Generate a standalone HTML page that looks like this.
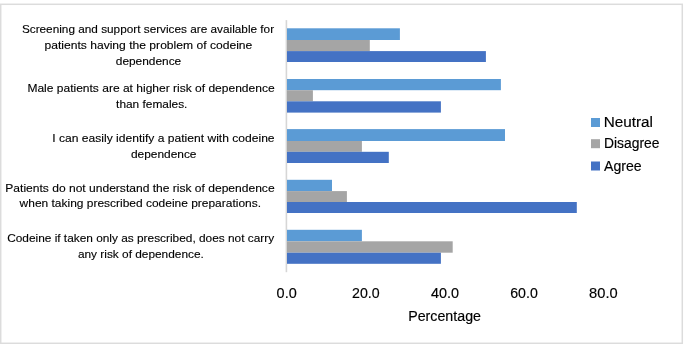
<!DOCTYPE html>
<html lang="en">
<head>
<meta charset="utf-8">
<title>Chart</title>
<style>
html,body{margin:0;padding:0;background:#fff;}
body{width:685px;height:344px;overflow:hidden;}
svg{display:block;}
text{font-family:"Liberation Sans",sans-serif;fill:#000;}
.yl{font-size:11.5px;stroke:#000;stroke-width:0.12px;}
.ax{font-size:13.8px;stroke:#000;stroke-width:0.15px;}
.lg{font-size:13.8px;stroke:#000;stroke-width:0.15px;}
</style>
</head>
<body>
<svg width="685" height="344" viewBox="0 0 685 344">
<rect x="0" y="0" width="685" height="344" fill="#ffffff"/>
<rect x="0.7" y="4.3" width="681.6" height="339" fill="#ffffff" stroke="#dcdcdc" stroke-width="1.5"/>
<line x1="286.4" y1="20.1" x2="286.4" y2="272.2" stroke="#d6d6d6" stroke-width="1.6"/>
<rect x="287.0" y="28.3" width="112.9" height="11.7" fill="#5b9bd5"/>
<rect x="287.0" y="40.0" width="82.8" height="11.1" fill="#a5a5a5"/>
<rect x="287.0" y="51.1" width="198.9" height="10.9" fill="#4472c4"/>
<rect x="287.0" y="79.0" width="213.9" height="11.2" fill="#5b9bd5"/>
<rect x="287.0" y="90.2" width="25.9" height="11.1" fill="#a5a5a5"/>
<rect x="287.0" y="101.3" width="153.9" height="11.3" fill="#4472c4"/>
<rect x="287.0" y="129.1" width="218.0" height="11.9" fill="#5b9bd5"/>
<rect x="287.0" y="141.0" width="74.9" height="10.8" fill="#a5a5a5"/>
<rect x="287.0" y="151.8" width="101.8" height="11.2" fill="#4472c4"/>
<rect x="287.0" y="179.8" width="45.0" height="11.3" fill="#5b9bd5"/>
<rect x="287.0" y="191.1" width="59.9" height="10.9" fill="#a5a5a5"/>
<rect x="287.0" y="202.0" width="289.8" height="11.0" fill="#4472c4"/>
<rect x="287.0" y="229.8" width="74.9" height="11.5" fill="#5b9bd5"/>
<rect x="287.0" y="241.3" width="165.7" height="11.4" fill="#a5a5a5"/>
<rect x="287.0" y="252.7" width="153.9" height="11.1" fill="#4472c4"/>
<text class="yl" x="21.90" y="32.9" textLength="252.20" lengthAdjust="spacingAndGlyphs">Screening and support services are available for</text>
<text class="yl" x="44.45" y="48.6" textLength="207.85" lengthAdjust="spacingAndGlyphs">patients having the problem of codeine</text>
<text class="yl" x="115.80" y="64.6" textLength="65.40" lengthAdjust="spacingAndGlyphs">dependence</text>
<text class="yl" x="27.40" y="91.9" textLength="247.20" lengthAdjust="spacingAndGlyphs">Male patients are at higher risk of dependence</text>
<text class="yl" x="116.10" y="107.8" textLength="71.30" lengthAdjust="spacingAndGlyphs">than females.</text>
<text class="yl" x="52.30" y="141.7" textLength="222.30" lengthAdjust="spacingAndGlyphs">I can easily identify a patient with codeine</text>
<text class="yl" x="130.90" y="157.6" textLength="65.60" lengthAdjust="spacingAndGlyphs">dependence</text>
<text class="yl" x="5.30" y="191.8" textLength="269.30" lengthAdjust="spacingAndGlyphs">Patients do not understand the risk of dependence</text>
<text class="yl" x="19.60" y="207.2" textLength="241.40" lengthAdjust="spacingAndGlyphs">when taking prescribed codeine preparations.</text>
<text class="yl" x="7.20" y="242.2" textLength="266.90" lengthAdjust="spacingAndGlyphs">Codeine if taken only as prescribed, does not carry</text>
<text class="yl" x="77.90" y="257.9" textLength="125.90" lengthAdjust="spacingAndGlyphs">any risk of dependence.</text>
<text class="ax" x="276.60" y="297.6" textLength="20.10" lengthAdjust="spacingAndGlyphs">0.0</text>
<text class="ax" x="352.10" y="297.6" textLength="27.60" lengthAdjust="spacingAndGlyphs">20.0</text>
<text class="ax" x="430.95" y="297.6" textLength="28.05" lengthAdjust="spacingAndGlyphs">40.0</text>
<text class="ax" x="510.25" y="297.6" textLength="27.55" lengthAdjust="spacingAndGlyphs">60.0</text>
<text class="ax" x="589.10" y="297.6" textLength="28.50" lengthAdjust="spacingAndGlyphs">80.0</text>
<text class="ax" x="408.20" y="320.6" textLength="72.80" lengthAdjust="spacingAndGlyphs">Percentage</text>
<text class="lg" x="603.75" y="126.8" textLength="49.25" lengthAdjust="spacingAndGlyphs">Neutral</text>
<text class="lg" x="604.00" y="148.0" textLength="55.50" lengthAdjust="spacingAndGlyphs">Disagree</text>
<text class="lg" x="604.10" y="170.7" textLength="37.60" lengthAdjust="spacingAndGlyphs">Agree</text>
<rect x="591" y="118" width="9" height="9" fill="#5b9bd5"/>
<rect x="591" y="139.2" width="9" height="9" fill="#a5a5a5"/>
<rect x="591" y="161.5" width="9" height="9" fill="#4472c4"/>
</svg>
</body>
</html>
